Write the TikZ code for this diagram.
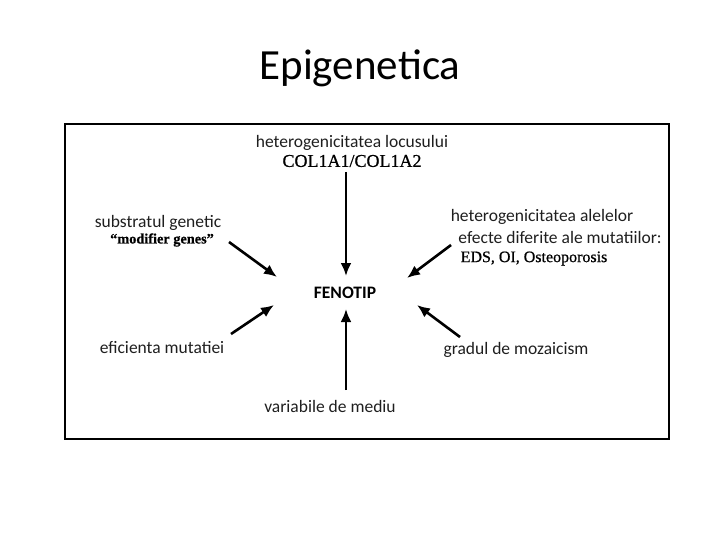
\documentclass[tikz,border=0pt]{standalone}
\usepackage{fontspec}
\setmainfont{Carlito}
\newfontfamily\serifb{Liberation Serif}[FakeBold=0.7]
\usetikzlibrary{arrows.meta}
\tikzset{
  lbl/.style={inner sep=0pt, text=black!88, font=\fontsize{17.5}{20}\selectfont},
  serlbl/.style={inner sep=0pt, font=\serifb\fontsize{18}{20}\selectfont},
  ser2/.style={inner sep=0pt, font=\serifb\bfseries\fontsize{14.3}{16}\selectfont},
  arr/.style={line width=2.6pt, -{Latex[length=13pt,width=11pt]}},
}
\begin{document}
\begin{tikzpicture}[x=1pt,y=-1pt]
\useasboundingbox (0,0) rectangle (720,540);
\fill[white] (0,0) rectangle (720,540);
\node[inner sep=0pt, font=\fontsize{43}{50}\selectfont] (title) at (360,68) {Epigenetica};
\draw[line width=2.4pt] (65,124) rectangle (669,439);
\node[lbl] (locus) at (352,143) {heterogenicitatea locusului};
\node[serlbl] (col) at (352,161) {COL1A1/COL1A2};
\node[lbl] (subst) at (158,223) {substratul genetic};
\node[ser2] (modif) at (162,240) {“modifier genes”};
\node[lbl] (alele) at (542,217) {heterogenicitatea alelelor};
\node[lbl] (efecte) at (560,237) {efecte diferite ale mutatiilor:};
\node[serlbl, font=\serifb\fontsize{16}{18}\selectfont] (eds) at (534,258.5) {EDS, OI, Osteoporosis};
\node[inner sep=0pt, font=\bfseries\fontsize{17.5}{20}\selectfont] (fen) at (345,293) {FENOTIP};
\node[lbl] (efic) at (162,348) {eficienta mutatiei};
\node[lbl] (grad) at (516,350) {gradul de mozaicism};
\node[lbl] (var) at (330,406) {variabile de mediu};
\coordinate (a1s) at (346,172); \coordinate (a1e) at (346,276);
\coordinate (a2s) at (229,242); \coordinate (a2e) at (277,277);
\coordinate (a3s) at (451,245); \coordinate (a3e) at (407,278);
\coordinate (a4s) at (231,334); \coordinate (a4e) at (274,305);
\coordinate (a5s) at (460,337); \coordinate (a5e) at (417,305);
\coordinate (a6s) at (346,390); \coordinate (a6e) at (346,309);
\draw[arr] (a1s) -- (a1e);
\draw[arr] (a2s) -- (a2e);
\draw[arr] (a3s) -- (a3e);
\draw[arr] (a4s) -- (a4e);
\draw[arr] (a5s) -- (a5e);
\draw[arr] (a6s) -- (a6e);
\end{tikzpicture}
\end{document}
